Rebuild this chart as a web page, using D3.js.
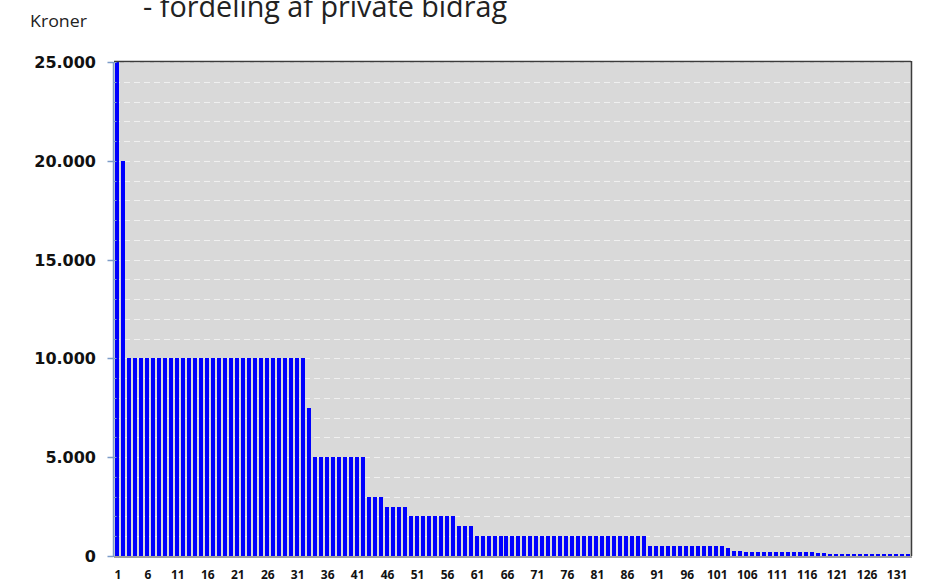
<!DOCTYPE html>
<html>
<head>
<meta charset="utf-8">
<script src="https://cdn.jsdelivr.net/npm/d3@7"></script>
<style>
  body { margin: 0; background: #fff; }
  svg { display: block; }
</style>
</head>
<body>
<svg id="chart"></svg>
<script>
const titleText = "- fordeling af private bidrag";
const unitLabel = "Kroner";

// bidrag sorteret efter størrelse, 133 bidragsydere
const bidrag = [
  25000, 20000,
  10000, 10000, 10000, 10000, 10000, 10000, 10000, 10000, 10000, 10000,
  10000, 10000, 10000, 10000, 10000, 10000, 10000, 10000, 10000, 10000,
  10000, 10000, 10000, 10000, 10000, 10000, 10000, 10000, 10000, 10000,
  7500,
  5000, 5000, 5000, 5000, 5000, 5000, 5000, 5000, 5000,
  3000, 3000, 3000,
  2500, 2500, 2500, 2500,
  2000, 2000, 2000, 2000, 2000, 2000, 2000, 2000,
  1500, 1500, 1500,
  1000, 1000, 1000, 1000, 1000, 1000, 1000, 1000, 1000, 1000,
  1000, 1000, 1000, 1000, 1000, 1000, 1000, 1000, 1000, 1000,
  1000, 1000, 1000, 1000, 1000, 1000, 1000, 1000, 1000,
  500, 500, 500, 500, 500, 500, 500, 500, 500, 500, 500, 500, 500,
  400,
  250, 250,
  200, 200, 200, 200, 200, 200, 200, 200, 200, 200, 200, 200,
  150, 150,
  100, 100, 100, 100, 100, 100, 100, 100, 100, 100, 100, 100, 100, 100
];
const ids = bidrag.map((d, i) => i + 1);
const yTicks = [0, 5000, 10000, 15000, 20000, 25000];
const gridValues = d3.range(1000, 25001, 1000);
const xTickLabels = ids.filter(i => (i - 1) % 5 === 0);

const svgWidth = 929, svgHeight = 582;
const plot = { left: 114, right: 911, top: 62, bottom: 556 };

const svg = d3.select("#chart")
  .attr("width", svgWidth)
  .attr("height", svgHeight);

const x = d3.scaleBand()
  .domain(ids)
  .range([plot.left, plot.right])
  .paddingInner(0.33)
  .paddingOuter(0.15);

const y = d3.scaleLinear()
  .domain([0, 25000])
  .range([plot.bottom, plot.top]);

const fmt = d => d3.format(",")(d).replace(/,/g, ".");

// plot background
svg.append("rect")
  .attr("x", plot.left)
  .attr("y", plot.top)
  .attr("width", plot.right - plot.left)
  .attr("height", plot.bottom - plot.top)
  .attr("fill", "#d9d9d9");

// dashed gridlines
svg.append("g")
  .selectAll("line")
  .data(gridValues)
  .join("line")
  .attr("x1", plot.left)
  .attr("x2", plot.right)
  .attr("y1", d => Math.round(y(d)) + 0.5)
  .attr("y2", d => Math.round(y(d)) + 0.5)
  .attr("stroke", "#f0f0f0")
  .attr("stroke-width", 1)
  .attr("stroke-dasharray", "6,4");

// bars, snapped to whole pixels so the gaps stay visible
svg.append("g")
  .attr("shape-rendering", "crispEdges")
  .selectAll("rect")
  .data(bidrag)
  .join("rect")
  .attr("x", (d, i) => Math.round(x(ids[i])))
  .attr("y", d => Math.round(y(d)))
  .attr("width", 4)
  .attr("height", d => plot.bottom - Math.round(y(d)))
  .attr("fill", "#0000ff");

// frame: top and right dark, bottom grey
svg.append("line")
  .attr("x1", plot.left).attr("x2", plot.right)
  .attr("y1", plot.top - 0.5).attr("y2", plot.top - 0.5)
  .attr("stroke", "#3c3c3c").attr("stroke-width", 1.5);
svg.append("line")
  .attr("x1", plot.right + 0.5).attr("x2", plot.right + 0.5)
  .attr("y1", plot.top - 1).attr("y2", plot.bottom)
  .attr("stroke", "#3c3c3c").attr("stroke-width", 1.5);
svg.append("line")
  .attr("x1", plot.left).attr("x2", plot.right + 1)
  .attr("y1", plot.bottom + 1).attr("y2", plot.bottom + 1)
  .attr("stroke", "#a0a0a0").attr("stroke-width", 2);

// y axis
const yAxis = svg.append("g")
  .attr("transform", `translate(${plot.left - 0.5},0)`);
yAxis.append("line")
  .attr("y1", plot.top).attr("y2", plot.bottom + 1)
  .attr("stroke", "#7d9cc8").attr("stroke-width", 1.5);
yAxis.selectAll(".minor")
  .data(gridValues)
  .join("line")
  .attr("class", "minor")
  .attr("x1", 0).attr("x2", 3)
  .attr("y1", d => Math.round(y(d)) + 0.5)
  .attr("y2", d => Math.round(y(d)) + 0.5)
  .attr("stroke", "#7d9cc8");
yAxis.selectAll(".major")
  .data(yTicks)
  .join("line")
  .attr("class", "major")
  .attr("x1", -6).attr("x2", 0)
  .attr("y1", d => Math.round(y(d)) + 0.5)
  .attr("y2", d => Math.round(y(d)) + 0.5)
  .attr("stroke", "#7d9cc8")
  .attr("stroke-width", 1.5);
svg.append("g")
  .selectAll("text")
  .data(yTicks)
  .join("text")
  .attr("x", 96)
  .attr("y", d => y(d) + 6)
  .attr("text-anchor", "end")
  .style("font-family", "'DejaVu Sans', sans-serif")
  .style("font-size", "16px")
  .style("font-weight", "bold")
  .style("fill", "#111")
  .text(fmt);

// x labels
svg.append("g")
  .selectAll("text")
  .data(xTickLabels)
  .join("text")
  .attr("x", d => x(d) + x.bandwidth() / 2 + 1)
  .attr("y", 579)
  .attr("text-anchor", "middle")
  .style("font-family", "'Open Sans', sans-serif")
  .style("font-size", "12px")
  .style("font-weight", "bold")
  .style("fill", "#111")
  .text(d => d);

// unit label and (cut off) title
svg.append("text")
  .attr("x", 30)
  .attr("y", 27)
  .attr("textLength", 57)
  .attr("lengthAdjust", "spacingAndGlyphs")
  .style("font-family", "'Open Sans', sans-serif")
  .style("font-size", "17px")
  .style("fill", "#222")
  .text(unitLabel);

svg.append("text")
  .attr("x", 143)
  .attr("y", 17)
  .attr("textLength", 364)
  .attr("lengthAdjust", "spacingAndGlyphs")
  .style("font-family", "'Open Sans', sans-serif")
  .style("font-size", "30px")
  .style("fill", "#222")
  .text(titleText);
</script>
</body>
</html>
